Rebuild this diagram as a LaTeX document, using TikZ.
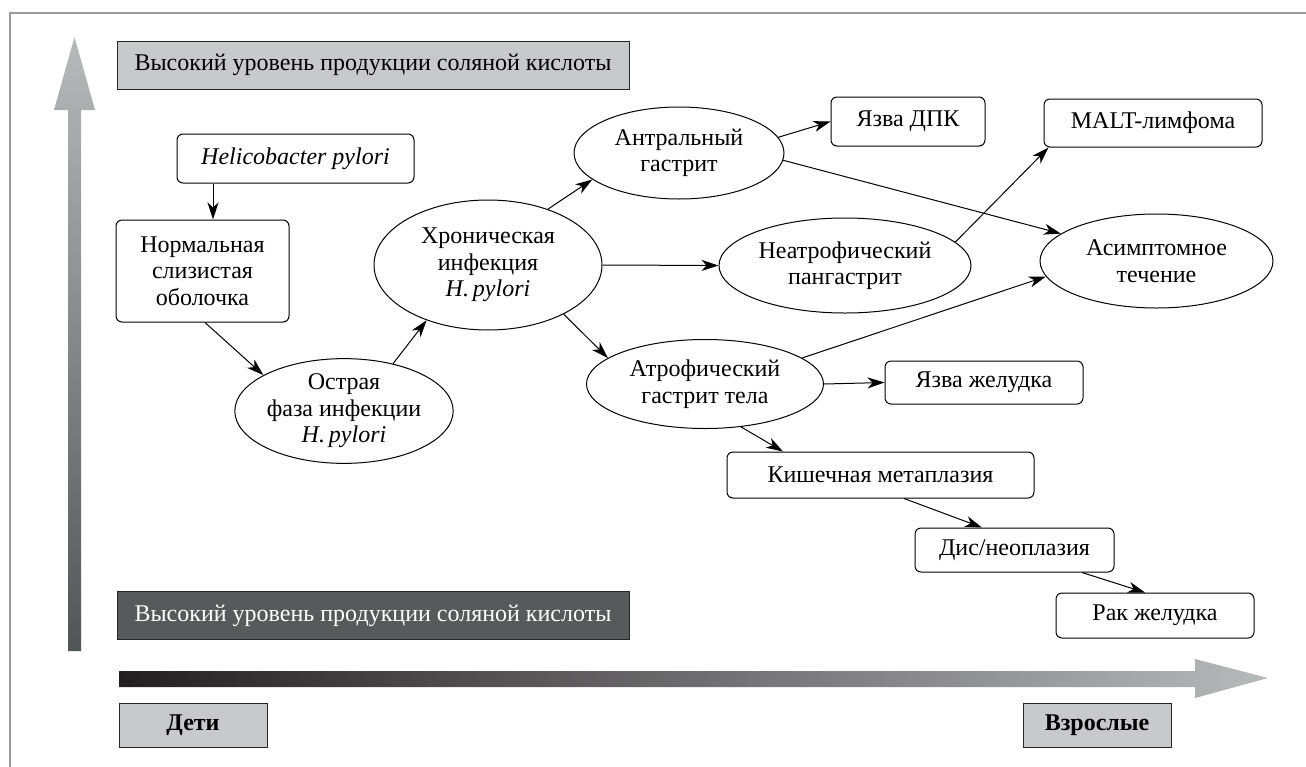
\documentclass[tikz,border=0pt]{standalone}
\usepackage{fontspec}
\setmainfont{Liberation Serif}
\usepackage{xcolor}
\usepackage{tikz}
\usetikzlibrary{shapes.geometric,arrows.meta,positioning,calc}

\definecolor{barlight}{HTML}{C8C9CB}
\definecolor{bardark}{HTML}{58595B}
\definecolor{framegray}{HTML}{9C9C9C}
\definecolor{axislight}{HTML}{B7B9BB}
\definecolor{axisdark}{HTML}{525456}
\definecolor{axisblack}{HTML}{231F20}

\begin{document}
\begin{tikzpicture}[
  x=1pt, y=-1pt,
  every node/.style={font=\fontsize{24}{26.5}\selectfont, inner sep=0pt, align=center},
  box/.style={rectangle, draw=black, rounded corners=6pt, line width=1pt},
  oval/.style={ellipse, draw=black, line width=1pt},
  hclbox/.style={rectangle, draw=black!85, line width=1pt, minimum width=512pt, minimum height=48pt},
  agebox/.style={rectangle, draw=black!85, fill=barlight, line width=1pt, minimum width=148pt,
                 minimum height=44pt, font=\fontsize{24}{26.5}\selectfont\bfseries},
  arrow/.style={-{Stealth[length=17pt,width=11pt,inset=5pt]}, line width=1pt}
]
  \useasboundingbox (0,0) rectangle (1306,766);
  \draw[framegray, line width=2.5pt] (10,770) -- (10,13) -- (1310,13);

  % axes
  \shade[top color=axislight, bottom color=axisdark]
    (68,651) -- (68,110) -- (54,110) -- (74.5,37) -- (95,110) -- (81,110) -- (81,651) -- cycle;
  \shade[left color=axisblack, right color=axislight]
    (119,671) -- (1195,671) -- (1195,659) -- (1268,678) -- (1195,698) -- (1195,687) -- (119,687) -- cycle;

  \node[hclbox, fill=barlight]             (hclhigh) at (373,65)    {Высокий уровень продукции соляной кислоты};
  \node[hclbox, fill=bardark, text=white]  (hcllow)  at (373,615.5) {Высокий уровень продукции соляной кислоты};
  \node[agebox] (kids)   at (193,725)  {Дети};
  \node[agebox] (adults) at (1097,725) {Взрослые};

  % disease course
  \node[box, minimum width=237pt, minimum height=49pt]  (hp)      at (295.5,158.5) {\itshape Helicobacter pylori};
  \node[box, minimum width=173pt, minimum height=102pt] (norm)    at (202.5,271)   {Нормальная\\слизистая\\оболочка};
  \node[oval, minimum width=210pt, minimum height=102pt] (acute)  at (344,411)     {Острая\\фаза инфекции\\\textit{H.\,pylori}};
  \node[oval, minimum width=228pt, minimum height=130pt] (chronic) at (488,265)    {Хроническая\\инфекция\\\textit{H.\,pylori}};
  \node[oval, minimum width=210pt, minimum height=92pt]  (antral) at (679,153)     {Антральный\\гастрит};
  \node[oval, minimum width=252pt, minimum height=95pt]  (nonatr) at (845,265.5)   {Неатрофический\\пангастрит};
  \node[oval, minimum width=237pt, minimum height=89pt]  (atr)    at (705,384)     {Атрофический\\гастрит тела};
  \node[oval, minimum width=233pt, minimum height=94pt]  (asym)   at (1156.5,261)  {Асимптомное\\течение};
  \node[box, minimum width=154pt, minimum height=49pt]  (duod)    at (908,121.5)   {Язва ДПК};
  \node[box, minimum width=218pt, minimum height=48pt]  (malt)    at (1153,123)    {MALT-лимфома};
  \node[box, minimum width=198pt, minimum height=43pt]  (ulcer)   at (984,382.5)   {Язва желудка};
  \node[box, minimum width=307pt, minimum height=46pt]  (intest)  at (880.5,475)   {Кишечная метаплазия};
  \node[box, minimum width=199pt, minimum height=44pt]  (dys)     at (1014.5,550)  {Дис/неоплазия};
  \node[box, minimum width=198pt, minimum height=45pt]  (cancer)  at (1155,615.5)  {Рак желудка};

  \draw[arrow] ([xshift=-82.5pt]hp.south) -- ([xshift=10.5pt]norm.north);
  \draw[arrow] ([xshift=2.5pt]norm.south) -- (acute.156);
  \draw[arrow] (acute.44)    -- (chronic.222);
  \draw[arrow] (chronic.43)  -- (antral.197);
  \draw[arrow] (chronic.east) -- (nonatr.west);
  \draw[arrow] (chronic.-33) -- (atr.165);
  \draw[arrow] (antral.9)    -- (duod.west);
  \draw[arrow] (antral.-4)   -- (asym.164);
  \draw[arrow] (nonatr.12)   -- ([xshift=5pt]malt.south west);
  \draw[arrow] (atr.15)      -- (asym.188);
  \draw[arrow] (atr.east)    -- (ulcer.west);
  \draw[arrow] (atr.-50)     -- ([xshift=-97.5pt]intest.north);
  \draw[arrow] ([xshift=23.5pt]intest.south) -- ([xshift=-32.5pt]dys.north);
  \draw[arrow] ([xshift=67.5pt]dys.south)    -- ([xshift=-10pt]cancer.north);
\end{tikzpicture}
\end{document}
